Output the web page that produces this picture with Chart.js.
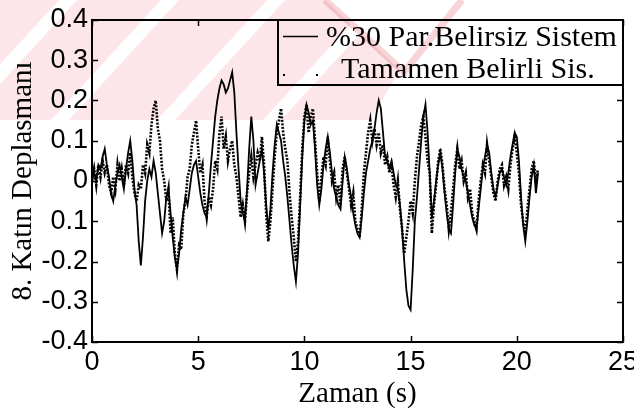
<!DOCTYPE html>
<html><head><meta charset="utf-8">
<script src="https://cdn.jsdelivr.net/npm/chart.js@4/dist/chart.umd.min.js"></script>
<style>html,body{margin:0;padding:0;background:#fff;}#wrap{width:634px;height:414px;}</style>
</head><body><div id="wrap"><canvas id="c" width="634" height="414"></canvas></div>
<script>
// ---- data ----
const seriesNames = ['%30 Par.Belirsiz Sistem', 'Tamamen Belirli Sis.'];
const xTitle = 'Zaman (s)';
const yTitle = '8. Katın Deplasmanı';
const xTicks = [0, 5, 10, 15, 20, 25];
const yTicks = [-0.4, -0.3, -0.2, -0.1, 0, 0.1, 0.2, 0.3, 0.4];
const yTickLabels = ['-0.4', '-0.3', '-0.2', '0.1', '0', '0.1', '0.2', '0.3', '0.4'];
const timeStep = 0.1; // sampling interval of both series (s)

const partialUncertain = [
  0.00,0.02,0.00,0.04,0.03,0.06,0.08,0.04,0.01,-0.03,
  -0.05,-0.01,0.02,0.04,0.01,-0.02,0.03,0.07,0.10,0.05,
  -0.02,-0.06,-0.15,-0.21,-0.14,-0.05,0.00,0.03,0.01,0.05,
  0.02,-0.03,-0.08,-0.13,-0.10,-0.04,-0.02,-0.08,-0.14,-0.19,
  -0.22,-0.18,-0.12,-0.08,-0.04,-0.06,-0.02,0.02,0.04,0.05,
  0.01,-0.03,-0.06,-0.08,-0.09,-0.03,0.04,0.10,0.16,0.20,
  0.23,0.25,0.24,0.22,0.23,0.25,0.27,0.22,0.12,0.03,
  -0.05,-0.08,-0.10,-0.02,0.08,0.16,0.10,-0.01,0.02,0.05,
  0.08,0.02,-0.06,-0.12,-0.07,0.02,0.09,0.14,0.12,0.10,
  0.05,0.01,-0.04,-0.10,-0.16,-0.21,-0.25,-0.18,-0.06,0.06,
  0.15,0.19,0.17,0.14,0.15,0.08,-0.01,-0.06,-0.02,0.04,
  0.08,0.11,0.07,0.02,-0.02,-0.04,-0.06,-0.07,0.00,0.06,
  0.03,-0.01,-0.04,-0.08,-0.11,-0.13,-0.14,-0.09,-0.03,0.02,
  0.05,0.08,0.10,0.13,0.17,0.20,0.18,0.12,0.06,0.05,
  0.03,0.05,0.02,-0.01,-0.02,-0.06,-0.12,-0.20,-0.27,-0.31,
  -0.32,-0.22,-0.10,-0.04,0.03,0.10,0.16,0.19,0.12,0.02,
  -0.09,-0.05,0.00,0.04,0.07,0.03,-0.03,-0.08,-0.12,-0.13,
  -0.06,0.02,0.08,0.06,0.03,0.01,0.00,-0.03,-0.06,-0.09,
  -0.11,-0.12,-0.07,-0.02,0.03,0.06,0.09,0.07,0.02,-0.02,
  -0.04,-0.01,0.02,0.03,0.01,-0.01,0.02,0.06,0.09,0.12,
  0.11,0.05,-0.04,-0.11,-0.15,-0.10,-0.04,0.01,0.04,-0.03,
  0.02
];

const fullyKnown = [
  0.00,0.03,-0.01,0.04,0.01,0.05,0.02,0.04,-0.01,-0.03,
  0.01,-0.02,0.04,0.00,0.03,-0.01,0.04,0.02,0.07,0.01,
  -0.03,-0.05,-0.01,-0.02,0.04,0.02,0.09,0.07,0.14,0.18,
  0.20,0.13,0.10,0.03,0.00,-0.05,-0.02,-0.13,-0.09,-0.18,
  -0.22,-0.16,-0.17,-0.08,-0.05,0.01,0.03,0.09,0.12,0.15,
  0.08,0.02,0.04,-0.05,-0.09,-0.04,-0.06,-0.02,0.05,0.03,
  0.12,0.16,0.08,0.11,0.05,0.08,0.10,0.04,0.01,-0.04,
  -0.09,-0.06,-0.10,-0.03,0.02,0.06,0.01,0.04,0.07,0.05,
  0.11,0.04,-0.08,-0.15,-0.10,-0.02,0.06,0.12,0.15,0.18,
  0.12,0.08,0.05,-0.03,-0.09,-0.14,-0.20,-0.15,-0.04,0.08,
  0.16,0.19,0.12,0.16,0.18,0.10,0.02,-0.05,0.01,0.06,
  0.04,0.11,0.05,0.00,0.02,-0.04,-0.01,-0.06,0.03,0.06,
  0.02,-0.02,-0.06,-0.03,-0.10,-0.12,-0.14,-0.07,0.02,0.07,
  0.12,0.15,0.10,0.13,0.09,0.12,0.07,0.09,0.04,0.06,
  0.02,0.04,-0.01,-0.04,0.00,-0.07,-0.12,-0.18,-0.14,-0.10,
  -0.05,-0.08,0.00,0.06,0.10,0.14,0.16,0.11,0.05,0.02,
  -0.13,-0.06,-0.01,0.05,0.08,0.04,-0.02,-0.06,-0.12,-0.08,
  -0.02,0.04,0.08,0.03,0.05,0.00,0.02,-0.04,-0.02,-0.08,
  -0.10,-0.12,-0.05,0.00,0.04,0.02,0.09,0.05,0.01,-0.03,
  -0.05,0.00,0.03,0.04,-0.01,0.01,-0.02,0.04,0.08,0.11,
  0.07,0.02,-0.06,-0.10,-0.13,-0.07,-0.02,0.03,0.05,0.00,
  0.03
];

// ---- build ----
const toXY = arr => arr.map((v, i) => ({ x: +(i * timeStep).toFixed(2), y: v }));

const frameTicks = {
  id: 'frameTicks',
  afterDatasetsDraw(chart) {
    const { ctx, chartArea: a, scales: { x, y } } = chart;
    ctx.save();
    ctx.strokeStyle = '#000';
    ctx.lineWidth = 2;
    ctx.strokeRect(a.left, a.top, a.right - a.left, a.bottom - a.top);
    ctx.lineWidth = 1.5;
    const L = 6;
    ctx.beginPath();
    xTicks.forEach(t => {
      const px = Math.round(x.getPixelForValue(t)) + 0.5;
      ctx.moveTo(px, a.bottom); ctx.lineTo(px, a.bottom - L);
      ctx.moveTo(px, a.top); ctx.lineTo(px, a.top + L);
    });
    yTicks.forEach(t => {
      const py = Math.round(y.getPixelForValue(t)) + 0.5;
      ctx.moveTo(a.left, py); ctx.lineTo(a.left + L, py);
      ctx.moveTo(a.right, py); ctx.lineTo(a.right - L, py);
    });
    ctx.stroke();
    ctx.restore();
  }
};

const boxLegend = {
  id: 'boxLegend',
  afterDatasetsDraw(chart) {
    const { ctx, chartArea: a } = chart;
    const x0 = 278, y0 = a.top, x1 = a.right, y1 = 85;
    ctx.save();
    ctx.fillStyle = '#fff';
    ctx.fillRect(x0, y0, x1 - x0, y1 - y0);
    ctx.strokeStyle = '#000';
    ctx.lineWidth = 2;
    ctx.strokeRect(x0, y0, x1 - x0, y1 - y0);
    ctx.lineWidth = 1.5;
    ctx.beginPath(); ctx.moveTo(283, 36.5); ctx.lineTo(318, 36.5); ctx.stroke();
    ctx.fillStyle = '#000';
    ctx.fillRect(283, 74, 2, 2);
    ctx.fillRect(316, 74, 2, 2);
    ctx.font = '30px "Liberation Serif"';
    ctx.textBaseline = 'middle';
    ctx.textAlign = 'left';
    ctx.fillText(chart.data.datasets[0].label, 326, 38);
    ctx.fillText(chart.data.datasets[1].label, 341, 70);
    ctx.restore();
  }
};

const watermark = {
  id: 'watermark',
  beforeDraw(chart) {
    const ctx = chart.ctx;
    ctx.save();
    ctx.fillStyle = '#fff';
    ctx.fillRect(0, 0, chart.width, chart.height);
    ctx.restore();
  },
  afterDraw(chart) {
    const ctx = chart.ctx;
    ctx.save();
    ctx.globalCompositeOperation = 'multiply';
    ctx.beginPath();
    ctx.moveTo(0, 0); ctx.lineTo(325, 0); ctx.lineTo(400, 70); ctx.lineTo(370, 120); ctx.lineTo(0, 120);
    ctx.closePath();
    ctx.clip();
    ctx.beginPath();
    ctx.rect(0, 0, 420, 120);
    [68, 170, 276, 382].forEach(tx => {
      ctx.moveTo(tx - 9, 0); ctx.lineTo(tx + 9, 0);
      ctx.lineTo(tx + 9 - 110, 120); ctx.lineTo(tx - 9 - 110, 120);
      ctx.closePath();
    });
    ctx.fillStyle = '#fce6e9';
    ctx.fill('evenodd');
    ctx.restore();
    ctx.save();
    ctx.globalCompositeOperation = 'multiply';
    ctx.strokeStyle = 'rgba(235,150,160,0.4)';
    ctx.lineWidth = 7;
    ctx.beginPath();
    ctx.moveTo(325, 0); ctx.lineTo(404, 72); ctx.lineTo(462, 0);
    ctx.stroke();
    ctx.restore();
  }
};

new Chart(document.getElementById('c'), {
  type: 'line',
  data: {
    datasets: [
      {
        label: seriesNames[0],
        data: toXY(partialUncertain),
        borderColor: '#000',
        borderWidth: 1.8,
        pointRadius: 0,
        tension: 0,
        fill: false
      },
      {
        label: seriesNames[1],
        data: toXY(fullyKnown),
        borderColor: '#000',
        borderWidth: 2.6,
        borderDash: [2, 1.5],
        pointRadius: 0,
        tension: 0,
        fill: false
      }
    ]
  },
  options: {
    responsive: false,
    devicePixelRatio: 1,
    animation: false,
    layout: { padding: { top: 20, right: 11, left: 0, bottom: 0 } },
    plugins: { legend: { display: false }, tooltip: { enabled: false } },
    scales: {
      x: {
        type: 'linear', min: 0, max: 25,
        afterBuildTicks: s => { s.ticks = xTicks.map(v => ({ value: v })); },
        grid: { display: false, drawTicks: false },
        border: { display: false },
        ticks: { color: '#000', font: { family: '"Liberation Sans"', size: 27 }, padding: 4, maxRotation: 0 },
        title: { display: true, text: xTitle, color: '#000', font: { family: '"Liberation Serif"', size: 29 }, padding: { top: 0, bottom: 2 } },
        afterFit: s => { s.height = 72; s.paddingLeft = 0; s.paddingRight = 0; }
      },
      y: {
        type: 'linear', min: -0.4, max: 0.4,
        afterBuildTicks: s => { s.ticks = yTicks.map(v => ({ value: v })); },
        grid: { display: false, drawTicks: false },
        border: { display: false },
        ticks: {
          color: '#000', font: { family: '"Liberation Sans"', size: 27 }, padding: 4,
          callback: (v) => { const i = yTicks.findIndex(t => Math.abs(t - v) < 1e-9); return i >= 0 ? yTickLabels[i] : ''; }
        },
        title: { display: true, text: yTitle, color: '#000', font: { family: '"Liberation Serif"', size: 29 }, padding: { top: 6, bottom: 0 } },
        afterFit: s => { s.width = 92; s.paddingTop = 0; s.paddingBottom = 0; }
      }
    }
  },
  plugins: [watermark, frameTicks, boxLegend]
});
</script>
</body></html>
